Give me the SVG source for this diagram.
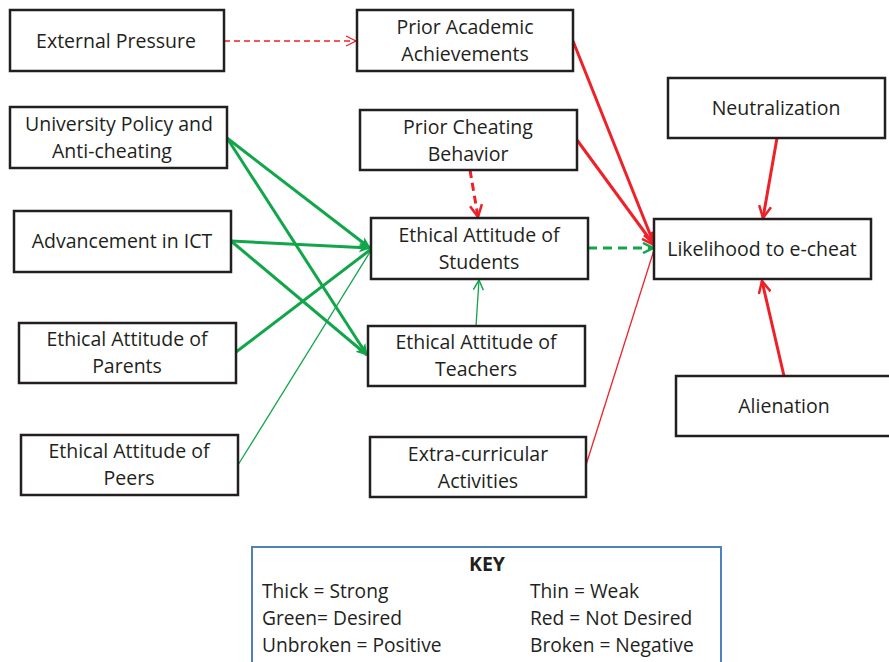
<svg xmlns="http://www.w3.org/2000/svg" width="889" height="662" viewBox="0 0 889 662">
<style>
.box{fill:#fff;stroke:#231f20;stroke-width:2.5}
text{font-family:"Open Sans","Liberation Sans",sans-serif;font-size:19.5px;fill:#231f20;text-anchor:middle}
.g{stroke:#12a64b;fill:none}
.r{stroke:#ee2128;fill:none}
.thick{stroke-width:3}
.thin{stroke-width:1.3}
.k{text-anchor:start;font-size:19.2px}
</style>
<defs>
<marker id="gf" viewBox="0 0 12 12" refX="11" refY="6" markerWidth="12" markerHeight="12" markerUnits="userSpaceOnUse" orient="auto"><path d="M0,1 L12,6 L0,11 L3,6 Z" fill="#12a64b"/></marker>
<marker id="gv" viewBox="0 0 12 12" refX="11" refY="6" markerWidth="12" markerHeight="12" markerUnits="userSpaceOnUse" orient="auto"><path d="M1,1 L11,6 L1,11" fill="none" stroke="#12a64b" stroke-width="1.5"/></marker>
<marker id="gvt" viewBox="0 0 12 12" refX="11" refY="6" markerWidth="12" markerHeight="12" markerUnits="userSpaceOnUse" orient="auto"><path d="M1,1 L11,6 L1,11" fill="none" stroke="#12a64b" stroke-width="2.5"/></marker>
<marker id="rv" viewBox="0 0 12 12" refX="11" refY="6" markerWidth="12" markerHeight="12" markerUnits="userSpaceOnUse" orient="auto"><path d="M1,1 L11,6 L1,11" fill="none" stroke="#ee2128" stroke-width="1.3"/></marker>
<marker id="rvt" viewBox="0 0 14 14" refX="13" refY="7" markerWidth="14" markerHeight="14" markerUnits="userSpaceOnUse" orient="auto"><path d="M1,1 L13,7 L1,13" fill="none" stroke="#ee2128" stroke-width="2.5"/></marker>
</defs>
<g id="connectors">
<line class="r thin" x1="224" y1="41" x2="356" y2="41" stroke-dasharray="6,4" marker-end="url(#rv)"/>
<line class="g thick" x1="227" y1="138" x2="370" y2="248" marker-end="url(#gf)"/>
<line class="g thick" x1="227" y1="138" x2="367" y2="355" marker-end="url(#gf)"/>
<line class="g thick" x1="231" y1="241" x2="370" y2="248" marker-end="url(#gf)"/>
<line class="g thick" x1="231" y1="241" x2="367" y2="355" marker-end="url(#gf)"/>
<line class="g thick" x1="236" y1="352" x2="370" y2="250"/>
<line class="g thin" x1="238" y1="465" x2="370" y2="252"/>
<line class="r thick" x1="470" y1="170" x2="478" y2="217" stroke-dasharray="8,5" marker-end="url(#rvt)"/>
<line class="g thin" x1="476" y1="326" x2="479" y2="280" marker-end="url(#gv)"/>
<line class="g thick" x1="588" y1="248" x2="653" y2="248" stroke-dasharray="9,6" marker-end="url(#gvt)"/>
<line class="r thick" x1="573" y1="41" x2="654" y2="244" marker-end="url(#rvt)"/>
<line class="r thick" x1="577" y1="140" x2="654" y2="245" marker-end="url(#rvt)"/>
<line class="r thin" x1="586" y1="465" x2="654" y2="250"/>
<line class="r thick" x1="777" y1="138" x2="763" y2="218" marker-end="url(#rvt)"/>
<line class="r thick" x1="784" y1="376" x2="762" y2="281" marker-end="url(#rvt)"/>
</g>
<g id="n-external"><rect class="box" x="10" y="10" width="214" height="61"/><text x="116" y="48">External Pressure</text></g>
<g id="n-prior-academic"><rect class="box" x="357" y="10" width="216" height="61"/><text x="465" y="34">Prior Academic</text><text x="465" y="61">Achievements</text></g>
<g id="n-university"><rect class="box" x="10" y="107" width="217" height="61"/><text x="119" y="131">University Policy and</text><text x="112" y="158">Anti-cheating</text></g>
<g id="n-prior-cheating"><rect class="box" x="360" y="110" width="217" height="60"/><text x="468" y="134">Prior Cheating</text><text x="468" y="161">Behavior</text></g>
<g id="n-neutralization"><rect class="box" x="668" y="78" width="217" height="60"/><text x="776" y="115">Neutralization</text></g>
<g id="n-ict"><rect class="box" x="14" y="211" width="217" height="61"/><text x="122" y="248">Advancement in ICT</text></g>
<g id="n-students"><rect class="box" x="371" y="218" width="217" height="61"/><text x="479" y="242">Ethical Attitude of</text><text x="479" y="269">Students</text></g>
<g id="n-likelihood"><rect class="box" x="654" y="219" width="217" height="60"/><text x="762" y="256">Likelihood to e-cheat</text></g>
<g id="n-parents"><rect class="box" x="19" y="323" width="217" height="60"/><text x="127" y="346">Ethical Attitude of</text><text x="127" y="373">Parents</text></g>
<g id="n-teachers"><rect class="box" x="368" y="326" width="217" height="60"/><text x="476" y="349">Ethical Attitude of</text><text x="476" y="376">Teachers</text></g>
<g id="n-alienation"><rect class="box" x="676" y="376" width="216" height="60"/><text x="784" y="413">Alienation</text></g>
<g id="n-peers"><rect class="box" x="21" y="435" width="217" height="60"/><text x="129" y="458">Ethical Attitude of</text><text x="129" y="485">Peers</text></g>
<g id="n-extra"><rect class="box" x="370" y="437" width="216" height="60"/><text x="478" y="461">Extra-curricular</text><text x="478" y="488">Activities</text></g>
<g id="key">
<rect x="252" y="547" width="469" height="125" fill="#fff" stroke="#4f81bd" stroke-width="2"/>
<text x="487" y="571" style="font-weight:bold">KEY</text>
<text class="k" x="262" y="598">Thick = Strong</text>
<text class="k" x="530" y="598">Thin = Weak</text>
<text class="k" x="262" y="625">Green= Desired</text>
<text class="k" x="530" y="625">Red = Not Desired</text>
<text class="k" x="262" y="652">Unbroken = Positive</text>
<text class="k" x="530" y="652">Broken = Negative</text>
</g>
</svg>
